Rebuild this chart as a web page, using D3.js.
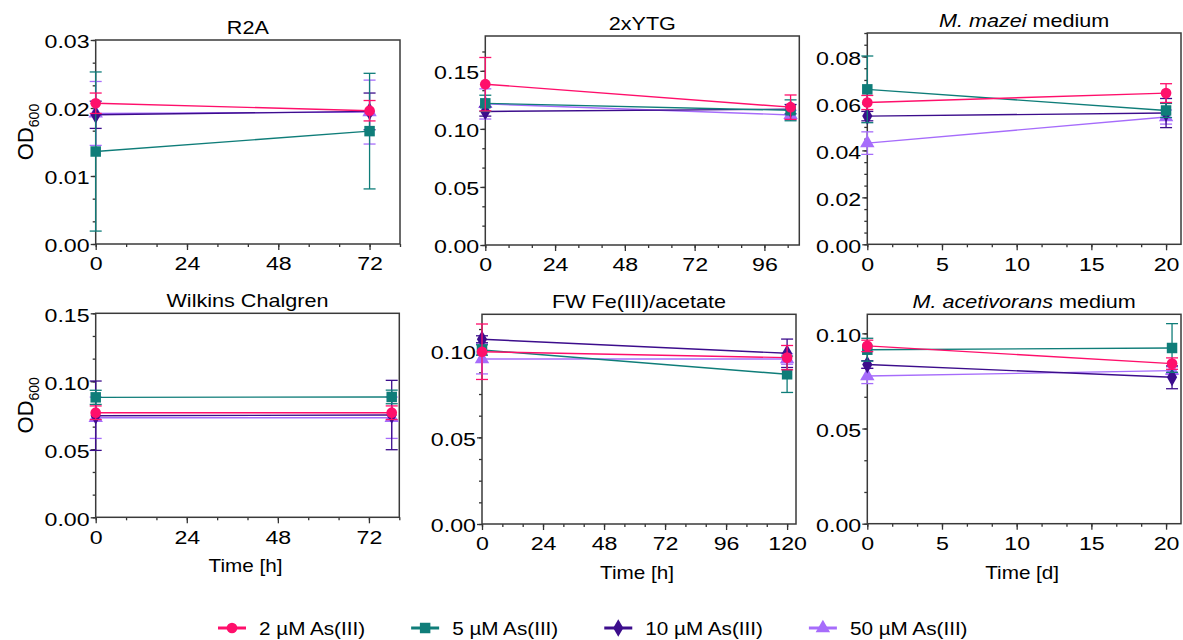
<!DOCTYPE html>
<html>
<head>
<meta charset="utf-8">
<script src="https://cdn.jsdelivr.net/npm/d3@7"></script>
<style>
  body { margin: 0; background: #fff; }
  text { font-family: "Liberation Sans", Arial, Helvetica, sans-serif; fill: #000; }
</style>
</head>
<body>
<div id="chart"></div>
<script>
// series (arsenite concentrations)
var seriesNames = ["2 µM As(III)", "5 µM As(III)", "10 µM As(III)", "50 µM As(III)"];
var seriesColors = ["#ff0f6b", "#0f7d79", "#3c0d8c", "#a66cfb"];
var seriesShapes = [d3.symbolCircle, d3.symbolSquare, d3.symbolDiamond, d3.symbolTriangle];

// R2A
var r2aTimes = [0, 72];
var r2aMean = [[0.0207, 0.0196], [0.0136, 0.0166], [0.0190, 0.0195], [0.0192, 0.0194]];
var r2aSd = [[0.0015, 0.0015], [0.0117, 0.0085], [0.0020, 0.0027], [0.0047, 0.0047]];
var r2aXTicks = [0, 24, 48, 72];
var r2aYTicks = [0, 0.01, 0.02, 0.03];

// 2xYTG
var ytgTimes = [0, 105];
var ytgMean = [[0.1385, 0.1187], [0.1220, 0.1160], [0.1150, 0.1170], [0.1215, 0.1120]];
var ytgSd = [[0.0230, 0.0105], [0.0070, 0.0090], [0.0040, 0.0040], [0.0130, 0.0040]];
var ytgXTicks = [0, 24, 48, 72, 96];
var ytgYTicks = [0, 0.05, 0.10, 0.15];

// M. mazei medium
var mazTimes = [0, 20];
var mazMean = [[0.0604, 0.0644], [0.0660, 0.0570], [0.0546, 0.0559], [0.0431, 0.0542]];
var mazSd = [[0.0030, 0.0040], [0.0142, 0.0030], [0.0020, 0.0062], [0.0048, 0.0030]];
var mazXTicks = [0, 5, 10, 15, 20];
var mazYTicks = [0, 0.02, 0.04, 0.06, 0.08];

// Wilkins Chalgren
var wcTimes = [0, 78];
var wcMean = [[0.0769, 0.0769], [0.0882, 0.0885], [0.0747, 0.0752], [0.0732, 0.0732]];
var wcSd = [[0.0050, 0.0050], [0.0052, 0.0050], [0.0255, 0.0255], [0.0152, 0.0152]];
var wcXTicks = [0, 24, 48, 72];
var wcYTicks = [0, 0.05, 0.10, 0.15];

// FW Fe(III)/acetate
var fwTimes = [0, 120];
var fwMean = [[0.0994, 0.0960], [0.1004, 0.0864], [0.1066, 0.0985], [0.0952, 0.0952]];
var fwSd = [[0.0160, 0.0070], [0.0030, 0.0105], [0.0020, 0.0082], [0.0086, 0.0030]];
var fwXTicks = [0, 24, 48, 72, 96, 120];
var fwYTicks = [0, 0.05, 0.10];

// M. acetivorans medium
var macTimes = [0, 20.4];
var macMean = [[0.0934, 0.0841], [0.0914, 0.0923], [0.0836, 0.0769], [0.0776, 0.0804]];
var macSd = [[0.0030, 0.0030], [0.0060, 0.0128], [0.0020, 0.0060], [0.0040, 0.0020]];
var macXTicks = [0, 5, 10, 15, 20];
var macYTicks = [0, 0.05, 0.10];

var svgWidth = 1183;
var svgHeight = 640;
var stretch = 1.15;     // the reference text is drawn a bit wider than Arial
var tickStretch = 1.22;
var titleStretch = 1.2;

var svg = d3.select("#chart")
  .append("svg")
  .attr("width", svgWidth)
  .attr("height", svgHeight);

// layout of the six panels
var panels = [
  { title: [["R2A", false]], times: r2aTimes, mean: r2aMean, sd: r2aSd,
    xDomain: [0, 80], xTicks: r2aXTicks, xMinor: 8, yDomain: [0, 0.03], yTicks: r2aYTicks, yMinor: 0.01 / 3,
    box: [95.7, 40, 400, 244], yLabel: true, xLabel: null },
  { title: [["2xYTG", false]], times: ytgTimes, mean: ytgMean, sd: ytgSd,
    xDomain: [0, 108], xTicks: ytgXTicks, xMinor: 8, yDomain: [0, 0.18], yTicks: ytgYTicks, yMinor: 0.05 / 3,
    box: [485.3, 36, 799.3, 245], yLabel: false, xLabel: null },
  { title: [["M. mazei", true], [" medium", false]], times: mazTimes, mean: mazMean, sd: mazSd,
    xDomain: [0, 21], xTicks: mazXTicks, xMinor: 5 / 3, yDomain: [0, 0.09], yTicks: mazYTicks, yMinor: 0.005,
    box: [867.3, 33, 1181, 244.3], yLabel: false, xLabel: null },
  { title: [["Wilkins Chalgren", false]], times: wcTimes, mean: wcMean, sd: wcSd,
    xDomain: [0, 80], xTicks: wcXTicks, xMinor: 8, yDomain: [0, 0.15], yTicks: wcYTicks, yMinor: 0.05 / 3,
    box: [95.7, 313.3, 399.3, 517.3], yLabel: true, xLabel: "Time [h]" },
  { title: [["FW Fe(III)/acetate", false]], times: fwTimes, mean: fwMean, sd: fwSd,
    xDomain: [0, 123.5], xTicks: fwXTicks, xMinor: 8, yDomain: [0, 0.121], yTicks: fwYTicks, yMinor: 0.0125,
    box: [482, 314.3, 796, 524], yLabel: false, xLabel: "Time [h]" },
  { title: [["M. acetivorans", true], [" medium", false]], times: macTimes, mean: macMean, sd: macSd,
    xDomain: [0, 21], xTicks: macXTicks, xMinor: 5 / 3, yDomain: [0, 0.11], yTicks: macYTicks, yMinor: 0.05 / 3,
    box: [867.3, 314.3, 1181, 523.7], yLabel: false, xLabel: "Time [d]" }
];

function drawPanel(p) {
  var x0 = p.box[0], y0 = p.box[1], x1 = p.box[2], y1 = p.box[3];
  var xScale = d3.scaleLinear().domain(p.xDomain).range([x0, x1]);
  var yScale = d3.scaleLinear().domain(p.yDomain).range([y1, y0]);
  var g = svg.append("g");

  // minor ticks
  var xMinorTicks = d3.range(0, p.xDomain[1] + 1e-9, p.xMinor);
  var yMinorTicks = d3.range(0, p.yDomain[1] + 1e-9, p.yMinor);
  g.append("g")
    .attr("transform", `translate(0, ${y1})`)
    .call(d3.axisBottom(xScale).tickValues(xMinorTicks).tickSize(3).tickSizeOuter(0).tickFormat(""))
    .call(a => a.select(".domain").remove());
  g.append("g")
    .attr("transform", `translate(${x0}, 0)`)
    .call(d3.axisLeft(yScale).tickValues(yMinorTicks).tickSize(3).tickSizeOuter(0).tickFormat(""))
    .call(a => a.select(".domain").remove());

  // major ticks
  var xAxis = g.append("g")
    .attr("transform", `translate(0, ${y1})`)
    .call(d3.axisBottom(xScale).tickValues(p.xTicks).tickSize(6).tickSizeOuter(0).tickPadding(7));
  var yAxis = g.append("g")
    .attr("transform", `translate(${x0}, 0)`)
    .call(d3.axisLeft(yScale).tickValues(p.yTicks).tickSize(5).tickSizeOuter(0).tickPadding(0)
      .tickFormat(d3.format(".2f")));
  [xAxis, yAxis].forEach(function(a) {
    a.select(".domain").remove();
    a.selectAll("text")
      .style("font-size", "19px")
      .style("font-family", "'Liberation Sans', Arial, sans-serif")
      .attr("fill", "#000")
      .attr("transform", `scale(${tickStretch},1)`);
  });
  yAxis.selectAll("text").attr("dy", "0.42em");
  g.selectAll(".tick line").attr("stroke", "#333").attr("stroke-width", 1.3);

  // frame
  g.append("rect")
    .attr("x", x0).attr("y", y0)
    .attr("width", x1 - x0).attr("height", y1 - y0)
    .attr("fill", "none")
    .attr("stroke", "#3a3a3a")
    .attr("stroke-width", 1.5);

  // title
  var title = g.append("text")
    .attr("text-anchor", "middle")
    .attr("transform", `translate(${(x0 + x1) / 2}, ${y0 - 6}) scale(${titleStretch},1)`)
    .style("font-size", "18px");
  p.title.forEach(function(part) {
    title.append("tspan")
      .style("font-style", part[1] ? "italic" : "normal")
      .text(part[0]);
  });

  // axis labels
  if (p.yLabel) {
    var yl = g.append("text")
      .attr("text-anchor", "middle")
      .attr("transform", `translate(33, ${(y0 + y1) / 2 - 10}) rotate(-90)`)
      .style("font-size", "22px");
    yl.append("tspan").text("OD");
    yl.append("tspan").attr("dy", 6).style("font-size", "14px").text("600");
  }
  if (p.xLabel) {
    g.append("text")
      .attr("text-anchor", "middle")
      .attr("transform", `translate(${(x0 + x1) / 2 - 2}, ${y1 + 55}) scale(${stretch},1)`)
      .style("font-size", "18px")
      .text(p.xLabel);
  }

  // series, drawn back to front so pink ends on top
  var line = d3.line()
    .x(d => xScale(d.t))
    .y(d => yScale(d.m));

  d3.range(seriesNames.length).reverse().forEach(function(s) {
    var pts = p.times.map((t, i) => ({ t: t, m: p.mean[s][i], e: p.sd[s][i] }));
    var col = seriesColors[s];
    var sg = g.append("g");

    sg.append("path")
      .datum(pts)
      .attr("d", line)
      .attr("fill", "none")
      .attr("stroke", col)
      .attr("stroke-width", 1.4);

    var bars = sg.selectAll(".err")
      .data(pts)
      .enter()
      .append("g");
    bars.append("line")
      .attr("x1", d => xScale(d.t)).attr("x2", d => xScale(d.t))
      .attr("y1", d => yScale(d.m - d.e)).attr("y2", d => yScale(d.m + d.e))
      .attr("stroke", col).attr("stroke-width", 1.3);
    [-1, 1].forEach(function(sign) {
      bars.append("line")
        .attr("x1", d => xScale(d.t) - 6).attr("x2", d => xScale(d.t) + 6)
        .attr("y1", d => yScale(d.m + sign * d.e)).attr("y2", d => yScale(d.m + sign * d.e))
        .attr("stroke", col).attr("stroke-width", 1.3);
    });

    sg.selectAll(".pt")
      .data(pts)
      .enter()
      .append("path")
      .attr("d", d3.symbol().type(seriesShapes[s]).size(s === 1 ? 110 : 90))
      .attr("transform", d => `translate(${xScale(d.t)}, ${yScale(d.m)})`)
      .attr("fill", col);
  });
}

panels.forEach(drawPanel);

// legend
var legend = svg.append("g");
var lx = 232;
seriesNames.forEach(function(name, s) {
  var item = legend.append("g").attr("transform", `translate(${lx}, 628)`);
  item.append("line")
    .attr("x1", -14).attr("x2", 14)
    .attr("stroke", seriesColors[s]).attr("stroke-width", 3);
  item.append("path")
    .attr("d", d3.symbol().type(seriesShapes[s]).size(s === 1 ? 110 : 90))
    .attr("fill", seriesColors[s]);
  var t = item.append("text")
    .attr("transform", `translate(27, 7) scale(${stretch},1)`)
    .style("font-size", "18px")
    .text(name);
  lx += 27 + t.node().getComputedTextLength() * stretch + 60;
});
</script>
</body>
</html>
